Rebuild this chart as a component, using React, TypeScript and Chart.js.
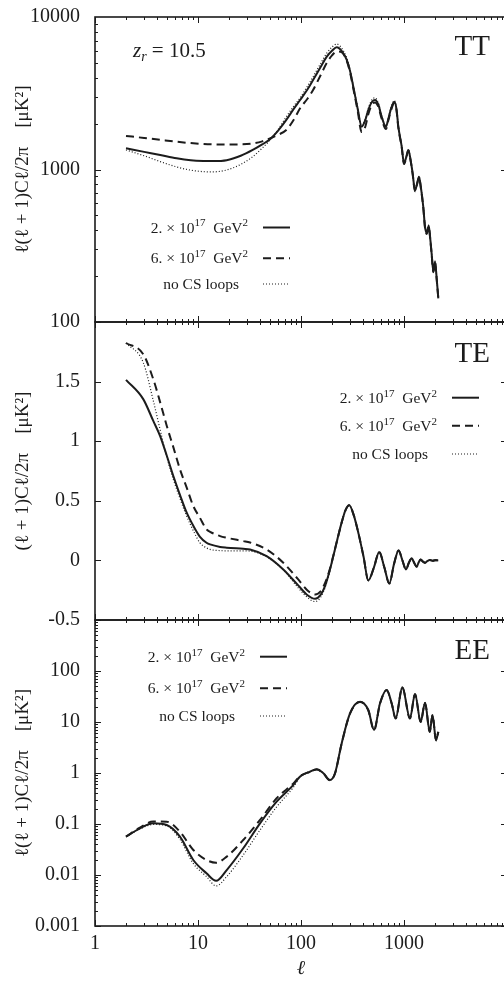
import React, { useEffect, useRef } from 'react';
import { Chart, registerables } from 'chart.js';

Chart.register(...registerables);

const FONT = "'Liberation Serif', 'DejaVu Serif', serif";
const INK = '#1c1c1c';

// ---------- shared x axis ----------
const X_MIN = 1;
const X_MAX = 10000;
const X_TICK_LABELS = [1, 10, 100, 1000];

// ---------- TT panel ----------
const TT_ELL = [2, 3, 4.3, 6.2, 8.5, 11.3, 14, 19, 26, 34, 42, 50, 60, 72, 85, 98, 115, 131, 155, 178, 200, 222, 250, 278, 300, 322, 355, 388, 420, 450, 490, 523, 565, 607, 668, 705, 742, 805, 845, 881, 950, 1000, 1050, 1101, 1160, 1213, 1279, 1340, 1398, 1460, 1538, 1600, 1660, 1738, 1800, 1854, 1928, 2000, 2080, 2154];
const TT_SOLID = [1377, 1305, 1245, 1185, 1150, 1137, 1135, 1150, 1230, 1343, 1460, 1579, 1800, 2115, 2500, 2857, 3330, 3860, 4700, 5500, 6000, 6325, 5950, 5226, 4400, 3490, 2500, 1910, 2100, 2455, 2780, 2857, 2650, 2218, 1910, 2150, 2455, 2785, 2500, 1910, 1413, 1097, 1200, 1343, 1150, 944, 726, 810, 898, 760, 570, 420, 382, 427, 350, 282, 214, 248, 190, 143];
const TT_DASHED = [1660, 1610, 1565, 1521, 1490, 1470, 1462, 1460, 1462, 1480, 1530, 1600, 1690, 1815, 2120, 2520, 2900, 3320, 4150, 5000, 5600, 5950, 5850, 5150, 4300, 3400, 2420, 1760, 1900, 2300, 2680, 2750, 2560, 2150, 1840, 2100, 2400, 2720, 2450, 1880, 1400, 1085, 1190, 1330, 1140, 935, 720, 800, 885, 750, 565, 415, 378, 422, 346, 280, 212, 245, 188, 142];
const TT_DOTTED = [1343, 1230, 1127, 1040, 990, 968, 965, 993, 1080, 1213, 1380, 1560, 1830, 2218, 2600, 2950, 3500, 4055, 4950, 5800, 6350, 6650, 6200, 5400, 4500, 3550, 2550, 1930, 2150, 2520, 2880, 2950, 2720, 2250, 1930, 2180, 2500, 2830, 2530, 1930, 1425, 1105, 1210, 1355, 1160, 950, 730, 815, 905, 765, 575, 424, 385, 432, 352, 284, 216, 251, 192, 144];
const TT_TICKS = [100, 1000, 10000];

// ---------- TE panel ----------
const TE_ELL = [2, 2.94, 3.68, 4.28, 4.97, 5.76, 6.68, 7.77, 9.0, 10.4, 12.1, 13.1, 16.4, 19, 27.5, 32, 46.4, 67.3, 94, 115, 137, 155, 171, 188, 206, 226, 248, 270, 294, 325, 360, 405, 450, 510, 575, 645, 720, 800, 887, 965, 1045, 1115, 1187, 1255, 1327, 1390, 1452, 1525, 1600, 1690, 1778, 1900, 2000, 2150];
const TE_SOLID = [1.515, 1.353, 1.17, 1.045, 0.88, 0.708, 0.55, 0.40, 0.29, 0.20, 0.148, 0.134, 0.113, 0.107, 0.097, 0.092, 0.036, -0.076, -0.21, -0.29, -0.322, -0.29, -0.216, -0.10, 0.036, 0.18, 0.317, 0.42, 0.462, 0.38, 0.233, 0.03, -0.168, -0.06, 0.07, -0.06, -0.193, -0.03, 0.084, 0.0, -0.076, -0.02, 0.017, -0.02, -0.053, -0.015, 0.008, -0.01, -0.02, -0.005, 0.003, -0.003, 0.002, 0.0];
const TE_DASHED = [1.824, 1.73, 1.52, 1.33, 1.13, 0.95, 0.765, 0.61, 0.456, 0.36, 0.26, 0.24, 0.204, 0.19, 0.162, 0.15, 0.092, -0.02, -0.16, -0.25, -0.286, -0.26, -0.19, -0.09, 0.04, 0.18, 0.317, 0.42, 0.462, 0.38, 0.233, 0.03, -0.168, -0.06, 0.07, -0.06, -0.193, -0.03, 0.084, 0.0, -0.076, -0.02, 0.017, -0.02, -0.053, -0.015, 0.008, -0.01, -0.02, -0.005, 0.003, -0.003, 0.002, 0.0];
const TE_DOTTED = [1.824, 1.66, 1.34, 1.10, 0.87, 0.68, 0.52, 0.37, 0.25, 0.149, 0.105, 0.092, 0.082, 0.08, 0.08, 0.078, 0.03, -0.08, -0.23, -0.31, -0.345, -0.31, -0.23, -0.11, 0.03, 0.18, 0.317, 0.42, 0.462, 0.38, 0.233, 0.03, -0.168, -0.06, 0.07, -0.06, -0.193, -0.03, 0.084, 0.0, -0.076, -0.02, 0.017, -0.02, -0.053, -0.015, 0.008, -0.01, -0.02, -0.005, 0.003, -0.003, 0.002, 0.0];
const TE_TICKS = [-0.5, 0, 0.5, 1, 1.5];

// ---------- EE panel ----------
const EE_ELL = [2, 2.73, 3.68, 4.97, 6.68, 9.0, 12.1, 15, 19, 27.5, 40, 58, 84, 98, 122, 142, 165, 191, 214, 248, 299, 374, 450, 512, 585, 679, 760, 830, 963, 1143, 1279, 1452, 1600, 1778, 1892, 2046, 2154];
const EE_SOLID = [0.0564, 0.0824, 0.103, 0.0955, 0.0564, 0.0197, 0.0108, 0.0077, 0.0125, 0.0334, 0.103, 0.274, 0.58, 0.85, 1.06, 1.18, 0.99, 0.73, 0.99, 3.8, 14.8, 25, 17.2, 7.0, 23.3, 42.4, 23, 11.8, 47.9, 11.8, 35.4, 10.1, 23.9, 6.46, 13.7, 4.4, 6.46];
const EE_DASHED = [0.0564, 0.085, 0.112, 0.111, 0.0706, 0.031, 0.0197, 0.0174, 0.0229, 0.0485, 0.12, 0.32, 0.62, 0.87, 1.06, 1.17, 0.98, 0.72, 0.98, 3.75, 14.6, 24.7, 17.0, 6.9, 23.0, 42.0, 22.8, 11.7, 47.5, 11.7, 35.1, 10.0, 23.7, 6.4, 13.6, 4.35, 6.4];
const EE_DOTTED = [0.0564, 0.08, 0.098, 0.092, 0.05, 0.0168, 0.0093, 0.0061, 0.0093, 0.0247, 0.076, 0.217, 0.52, 0.83, 1.05, 1.18, 0.99, 0.73, 0.99, 3.8, 14.8, 25, 17.2, 7.0, 23.3, 42.4, 23, 11.8, 47.9, 11.8, 35.4, 10.1, 23.9, 6.46, 13.7, 4.4, 6.46];
const EE_TICKS = [0.001, 0.01, 0.1, 1, 10, 100];

// ---------- legend ----------
type Seg = { t: string; sup?: boolean; sub?: boolean; italic?: boolean };
const SERIES_LABELS: Seg[][] = [
  [{ t: '2. × 10' }, { t: '17', sup: true }, { t: '  GeV' }, { t: '2', sup: true }],
  [{ t: '6. × 10' }, { t: '17', sup: true }, { t: '  GeV' }, { t: '2', sup: true }],
  [{ t: 'no CS loops' }],
];
const LINE_STYLES = [
  { width: 2, dash: [] as number[] },
  { width: 2, dash: [8, 5] },
  { width: 1.2, dash: [1, 2] },
];

const Z_LABEL: Seg[] = [{ t: 'z', italic: true }, { t: 'r', sub: true, italic: true }, { t: ' = 10.5' }];

type PanelDef = {
  key: string;
  top: number;
  height: number;
  padTop: number;
  padBottom: number;
  isBottom: boolean;
  logY: boolean;
  yMin: number;
  yMax: number;
  yTicks: number[];
  yTitle: string;
  ell: number[];
  series: number[][];
  legend: { rx: number; base: number[]; shift: number[] };
  nameBase: number;
  showZ: boolean;
};

const PANELS: PanelDef[] = [
  {
    key: 'TT', top: 0, height: 340, padTop: 17, padBottom: 18, isBottom: false,
    logY: true, yMin: 100, yMax: 10000, yTicks: TT_TICKS,
    yTitle: 'ℓ(ℓ + 1)Cℓ/2π    [μK²]',
    ell: TT_ELL, series: [TT_SOLID, TT_DASHED, TT_DOTTED],
    legend: { rx: 153, base: [215.5, 246.3, 272], shift: [0, 0, -9] },
    nameBase: 38, showZ: true,
  },
  {
    key: 'TE', top: 300, height: 340, padTop: 22, padBottom: 20, isBottom: false,
    logY: false, yMin: -0.5, yMax: 2.0, yTicks: TE_TICKS,
    yTitle: '(ℓ + 1)Cℓ/2π    [μK²]',
    ell: TE_ELL, series: [TE_SOLID, TE_DASHED, TE_DOTTED],
    legend: { rx: 342, base: [80.7, 108.7, 137], shift: [0, 0, -9] },
    nameBase: 39.7, showZ: false,
  },
  {
    key: 'EE', top: 600, height: 381, padTop: 20, padBottom: 0, isBottom: true,
    logY: true, yMin: 0.001, yMax: 1000, yTicks: EE_TICKS,
    yTitle: 'ℓ(ℓ + 1)Cℓ/2π    [μK²]',
    ell: EE_ELL, series: [EE_SOLID, EE_DASHED, EE_DOTTED],
    legend: { rx: 150, base: [41.7, 73.3, 101], shift: [0, 0, -10] },
    nameBase: 39.3, showZ: false,
  },
];

function drawRich(ctx: CanvasRenderingContext2D, segs: Seg[], x: number, y: number, size: number, align: 'left' | 'right') {
  const fontFor = (s: Seg) => `${s.italic ? 'italic ' : ''}${s.sup || s.sub ? Math.round(size * 0.68) : size}px ${FONT}`;
  let w = 0;
  for (const s of segs) {
    ctx.font = fontFor(s);
    w += ctx.measureText(s.t).width;
  }
  let cx = align === 'right' ? x - w : x;
  ctx.textAlign = 'left';
  ctx.textBaseline = 'alphabetic';
  for (const s of segs) {
    ctx.font = fontFor(s);
    const dy = s.sup ? -size * 0.4 : s.sub ? size * 0.22 : 0;
    ctx.fillText(s.t, cx, y + dy);
    cx += ctx.measureText(s.t).width;
  }
}

function decorPlugin(p: PanelDef) {
  return {
    id: 'decor' + p.key,
    afterDraw(chart: any) {
      const { ctx, chartArea: a } = chart;
      const xs = chart.scales.x;
      const ys = chart.scales.y;
      ctx.save();
      ctx.setLineDash([]);
      ctx.strokeStyle = INK;
      ctx.lineWidth = 1.6;
      ctx.strokeRect(a.left, a.top, a.right - a.left, a.bottom - a.top);

      ctx.lineWidth = 1;
      ctx.beginPath();
      for (let d = 0; d < 4; d++) {
        for (let k = 1; k <= 9; k++) {
          const v = k * Math.pow(10, d);
          const px = Math.round(xs.getPixelForValue(v)) + 0.5;
          const len = k === 1 ? 6 : 3;
          ctx.moveTo(px, a.top);
          ctx.lineTo(px, a.top + len);
          ctx.moveTo(px, a.bottom);
          ctx.lineTo(px, a.bottom - len);
        }
      }
      const marks: { v: number; major: boolean }[] = [];
      if (p.logY) {
        const d0 = Math.round(Math.log10(p.yMin));
        const d1 = Math.round(Math.log10(p.yMax));
        for (let d = d0; d < d1; d++) {
          for (let k = 1; k <= 9; k++) marks.push({ v: k * Math.pow(10, d), major: k === 1 });
        }
      } else {
        for (const t of p.yTicks) marks.push({ v: t, major: true });
      }
      for (const m of marks) {
        const py = Math.round(ys.getPixelForValue(m.v)) + 0.5;
        const len = m.major ? 6 : 3;
        ctx.moveTo(a.left, py);
        ctx.lineTo(a.left + len, py);
        ctx.moveTo(a.right, py);
        ctx.lineTo(a.right - len, py);
      }
      ctx.stroke();

      ctx.fillStyle = INK;
      ctx.font = `29px ${FONT}`;
      ctx.textAlign = 'right';
      ctx.textBaseline = 'alphabetic';
      ctx.fillText(p.key, a.right - 17, a.top + p.nameBase);

      if (p.showZ) drawRich(ctx, Z_LABEL, a.left + 38, a.top + 39.7, 21, 'left');

      const lg = p.legend;
      for (let i = 0; i < 3; i++) {
        const rx = a.left + lg.rx;
        const by = a.top + lg.base[i];
        ctx.fillStyle = INK;
        drawRich(ctx, SERIES_LABELS[i], rx + lg.shift[i], by, 15.5, 'right');
        const st = LINE_STYLES[i];
        ctx.beginPath();
        ctx.lineWidth = st.width;
        ctx.setLineDash(st.dash);
        ctx.moveTo(rx + 15, by - 5);
        ctx.lineTo(rx + 42, by - 5);
        ctx.stroke();
      }
      ctx.restore();
    },
  };
}

function Panel({ p }: { p: PanelDef }) {
  const ref = useRef<HTMLCanvasElement | null>(null);
  useEffect(() => {
    if (!ref.current) return;
    const datasets = p.series.map((vals, i) => ({
      label: SERIES_LABELS[i].map((s) => s.t).join(''),
      data: p.ell.map((x, j) => ({ x, y: vals[j] })),
      borderColor: INK,
      borderWidth: LINE_STYLES[i].width,
      borderDash: LINE_STYLES[i].dash,
      pointRadius: 0,
      fill: false,
      cubicInterpolationMode: 'monotone' as const,
    }));
    const chart = new Chart(ref.current, {
      type: 'line',
      data: { datasets },
      options: {
        responsive: false,
        animation: false,
        devicePixelRatio: 1,
        layout: { padding: { top: p.padTop, bottom: p.padBottom, left: 0, right: 5 } },
        plugins: { legend: { display: false }, tooltip: { enabled: false } },
        scales: {
          x: {
            type: 'logarithmic',
            min: X_MIN,
            max: X_MAX,
            display: p.isBottom,
            afterBuildTicks: (s: any) => {
              s.ticks = X_TICK_LABELS.map((v) => ({ value: v }));
            },
            afterFit: (s: any) => {
              s.height = p.isBottom ? 55 : 0;
              s.paddingLeft = 0;
              s.paddingRight = 0;
            },
            grid: { display: false, drawTicks: false },
            border: { display: false },
            ticks: {
              padding: 6,
              autoSkip: false,
              maxRotation: 0,
              color: INK,
              font: { family: FONT, size: 20 },
              callback: (v: any) => String(v),
            },
            title: {
              display: true,
              text: 'ℓ',
              color: INK,
              font: { family: FONT, size: 20, style: 'italic' },
              padding: { top: 0, bottom: 0 },
            },
          },
          y: {
            type: p.logY ? 'logarithmic' : 'linear',
            min: p.yMin,
            max: p.yMax,
            afterBuildTicks: (s: any) => {
              s.ticks = p.yTicks.map((v) => ({ value: v }));
            },
            afterFit: (s: any) => {
              s.width = 95;
              s.paddingTop = 0;
              s.paddingBottom = 0;
            },
            grid: { display: false, drawTicks: false },
            border: { display: false },
            ticks: {
              padding: 15,
              autoSkip: false,
              color: INK,
              font: { family: FONT, size: 20 },
              callback: (v: any) => String(v),
            },
            title: {
              display: true,
              text: p.yTitle,
              color: INK,
              font: { family: FONT, size: 19 },
              padding: { top: 12, bottom: 0 },
            },
          },
        },
      } as any,
      plugins: [decorPlugin(p)],
    });
    return () => chart.destroy();
  }, [p]);
  return (
    <canvas
      ref={ref}
      width={512}
      height={p.height}
      style={{ position: 'absolute', left: 0, top: p.top, width: 512, height: p.height }}
    />
  );
}

export default function App() {
  return (
    <div
      style={{
        position: 'fixed',
        left: 0,
        top: 0,
        width: 504,
        height: 981,
        overflow: 'hidden',
        background: '#fff',
      }}
    >
      {PANELS.map((p) => (
        <Panel key={p.key} p={p} />
      ))}
    </div>
  );
}
